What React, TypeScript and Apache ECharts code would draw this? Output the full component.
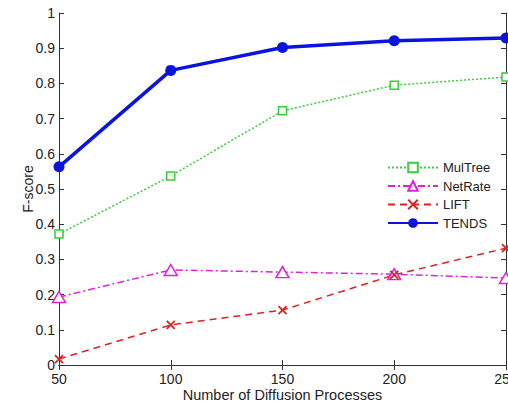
import React, { useEffect, useRef } from "react";
import * as echarts from "echarts";

const xValues = [50, 100, 150, 200, 250];
const mulTree = [0.372, 0.537, 0.722, 0.795, 0.818];
const netRate = [0.193, 0.27, 0.264, 0.258, 0.247];
const lift = [0.017, 0.114, 0.156, 0.256, 0.332];
const tends = [0.563, 0.837, 0.902, 0.921, 0.929];
const seriesNames = ["MulTree", "NetRate", "LIFT", "TENDS"];

const pair = (ys: number[]) => xValues.map((x, i) => [x, ys[i]]);

export default function App() {
  const ref = useRef<HTMLDivElement>(null);
  useEffect(() => {
    if (!ref.current) return;
    const chart = echarts.init(ref.current, null, { renderer: "svg" });
    const font = "Liberation Sans, Arial, sans-serif";
    const axisColor = "#333";
    chart.setOption({
      animation: false,
      backgroundColor: "#fff",
      grid: { left: 59, right: 2, top: 13, bottom: 38, outerBoundsMode: "none", containLabel: false },
      legend: {
        orient: "vertical",
        left: 382,
        top: 156,
        itemWidth: 50,
        itemHeight: 12,
        itemGap: 5.5,
        data: seriesNames,
        textStyle: { fontFamily: font, fontSize: 13, color: "#222" },
      },
      xAxis: [
        {
          type: "value",
          min: 50,
          max: 250,
          interval: 50,
          name: "Number of Diffusion Processes",
          nameLocation: "middle",
          nameGap: 22,
          nameMoveOverlap: false,
          nameTextStyle: { fontFamily: font, fontSize: 14.5, color: "#222", verticalAlign: "top" },
          axisLine: { lineStyle: { color: axisColor, width: 1 } },
          axisTick: { inside: true, length: 5, lineStyle: { color: axisColor } },
          axisLabel: { fontFamily: font, fontSize: 14, color: "#222", margin: 7 },
          splitLine: { show: false },
        },
        {
          type: "value",
          position: "top",
          min: 50,
          max: 250,
          interval: 50,
          axisLine: { show: true, lineStyle: { color: axisColor, width: 1 } },
          axisTick: { show: true, inside: true, length: 5, lineStyle: { color: axisColor } },
          axisLabel: { show: false },
          splitLine: { show: false },
        },
      ],
      yAxis: [
        {
          type: "value",
          min: 0,
          max: 1,
          interval: 0.1,
          name: "F-score",
          nameLocation: "middle",
          nameGap: 24,
          nameMoveOverlap: false,
          nameTextStyle: { fontFamily: font, fontSize: 14, color: "#222" },
          axisLine: { show: true, lineStyle: { color: axisColor, width: 1 } },
          axisTick: { show: true, inside: true, length: 5, lineStyle: { color: axisColor } },
          axisLabel: { fontFamily: font, fontSize: 14, color: "#222", margin: 4 },
          splitLine: { show: false },
        },
        {
          type: "value",
          position: "right",
          min: 0,
          max: 1,
          interval: 0.1,
          axisLine: { show: true, lineStyle: { color: axisColor, width: 1 } },
          axisTick: { show: true, inside: true, length: 5, lineStyle: { color: axisColor } },
          axisLabel: { show: false },
          splitLine: { show: false },
        },
      ],
      series: [
        {
          name: "MulTree",
          type: "line",
          data: pair(mulTree),
          symbol: "rect",
          symbolSize: 8,
          lineStyle: { color: "#3ccc3c", width: 1.5, type: [2, 2] },
          itemStyle: { color: "#ffffff", borderColor: "#3ccc3c", borderWidth: 1.5 },
          z: 3,
        },
        {
          name: "NetRate",
          type: "line",
          data: pair(netRate),
          symbol: "triangle",
          symbolSize: [13, 11],
          lineStyle: { color: "#dd22dd", width: 1.5, type: [7, 3, 2, 3] },
          itemStyle: { color: "#ffffff", borderColor: "#dd22dd", borderWidth: 1.5 },
          z: 3,
        },
        {
          name: "LIFT",
          type: "line",
          data: pair(lift),
          symbol: "path://M0,0L10,10M10,0L0,10",
          symbolSize: 8,
          lineStyle: { color: "#dd2222", width: 1.5, type: [7, 5] },
          itemStyle: { color: "#dd2222", borderColor: "#dd2222", borderWidth: 1.8 },
          z: 3,
        },
        {
          name: "TENDS",
          type: "line",
          data: pair(tends),
          symbol: "circle",
          symbolSize: 11,
          lineStyle: { color: "#0a14dd", width: 3.5 },
          itemStyle: { color: "#0a14dd" },
          z: 4,
        },
      ],
    });
    return () => chart.dispose();
  }, []);
  return (
    <div
      ref={ref}
      style={{ position: "fixed", left: 0, top: 0, width: 508, height: 403 }}
    />
  );
}
